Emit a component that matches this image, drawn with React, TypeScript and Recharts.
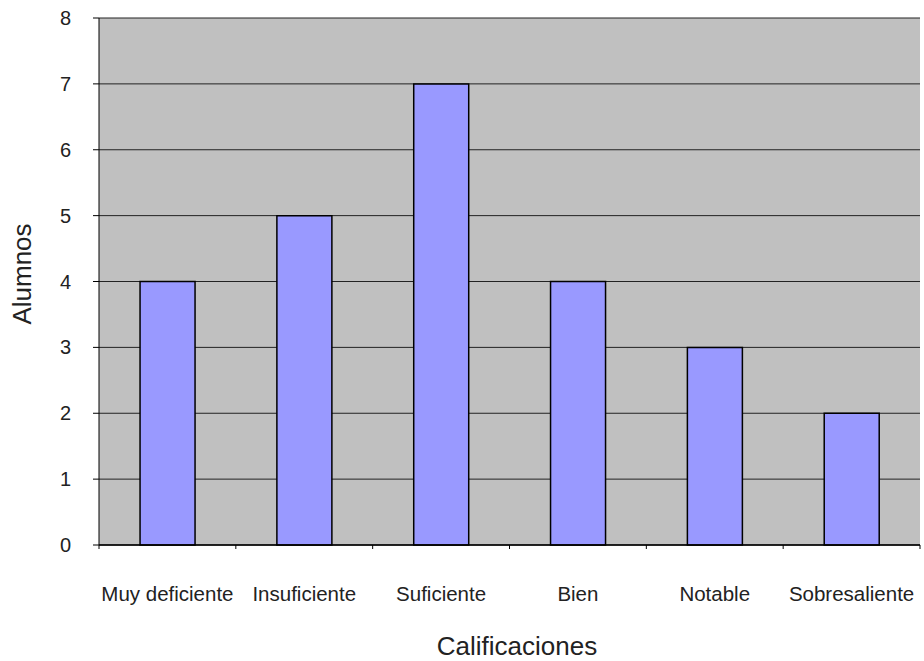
import { BarChart, Bar, XAxis, YAxis, CartesianGrid } from 'recharts';

// Calificaciones del grupo
const categorias = ['Muy deficiente', 'Insuficiente', 'Suficiente', 'Bien', 'Notable', 'Sobresaliente'];
const alumnos = [4, 5, 7, 4, 3, 2];
const yTicks = [0, 1, 2, 3, 4, 5, 6, 7, 8];

const data = categorias.map((c, i) => ({ name: c, value: alumnos[i] }));

const font = '"Liberation Sans", Arial, sans-serif';
const W = 924;
const H = 661;
const M = { top: 18, right: 4, left: 0, bottom: 0 };
const Y_W = 99;
const X_H = 116;
const halfBand = (W - M.left - M.right - Y_W) / categorias.length / 2;

// etiqueta de categoría + marca en el borde de cada categoría
const CatTick = (props: any) => {
  const { x, y, payload, index } = props;
  const axisY = H - M.bottom - X_H;
  return (
    <g>
      {index === 0 && <line x1={x - halfBand} x2={x - halfBand} y1={axisY} y2={axisY + 4} stroke="#000" />}
      <line x1={x + halfBand} x2={x + halfBand} y1={axisY} y2={axisY + 4} stroke="#000" />
      <text x={x} y={y} dy="0.71em" textAnchor="middle" fill="#222" fontSize={20.5} fontFamily={font}>
        {payload.value}
      </text>
    </g>
  );
};

const XTitle = () => (
  <text x={517} y={655} textAnchor="middle" fill="#222" fontSize={26} fontFamily={font}>
    Calificaciones
  </text>
);

const YTitle = () => (
  <text
    x={22}
    y={274}
    transform="rotate(-90, 22, 274)"
    dy="0.355em"
    textAnchor="middle"
    fill="#222"
    fontSize={26}
    fontFamily={font}
  >
    Alumnos
  </text>
);

export default function App() {
  return (
    <div style={{ position: 'absolute', left: 0, top: 0, width: W, height: H, background: '#fff' }}>
      <BarChart width={W} height={H} data={data} margin={M} barCategoryGap="30%">
        <CartesianGrid vertical={false} fill="#C0C0C0" stroke="#222" strokeWidth={1} fillOpacity={1} />
        <XAxis
          dataKey="name"
          height={X_H}
          tickLine={false}
          axisLine={{ stroke: '#000', strokeWidth: 1.5 }}
          tickSize={0}
          tickMargin={41}
          interval={0}
          tick={<CatTick />}
          label={<XTitle />}
        />
        <YAxis
          width={Y_W}
          domain={[0, 8]}
          ticks={yTicks}
          interval={0}
          tickSize={6}
          tickMargin={22}
          stroke="#000"
          tick={{ fill: '#222', fontSize: 20, fontFamily: font }}
          label={<YTitle />}
        />
        <Bar dataKey="value" fill="#9999FF" stroke="#000" strokeWidth={1.5} isAnimationActive={false} />
      </BarChart>
    </div>
  );
}
